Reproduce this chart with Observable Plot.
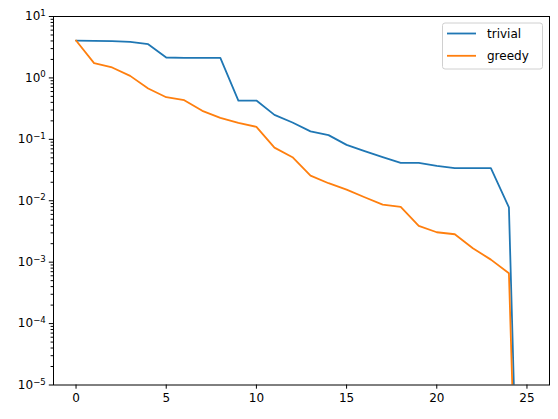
<!DOCTYPE html>
<html>
<head>
<meta charset="utf-8">
<script src="https://cdn.jsdelivr.net/npm/d3@7"></script>
<script src="https://cdn.jsdelivr.net/npm/@observablehq/plot@0.6"></script>
<style>
  html, body { margin: 0; padding: 0; background: #fff; }
  #chart { width: 558px; height: 419px; }
  svg { font-family: "DejaVu Sans", sans-serif; }
</style>
</head>
<body>
<div id="chart"></div>
<script>
const steps = d3.range(0, 26);
const trivial = [4.06, 4.0, 3.96, 3.87, 3.54, 2.15, 2.12, 2.12, 2.12, 0.428, 0.428, 0.25, 0.188, 0.135, 0.117, 0.0813, 0.0641, 0.0512, 0.0414, 0.0414, 0.037, 0.0339, 0.0339, 0.0339, 0.00783, 2e-13];
const greedy = [4.06, 1.74, 1.48, 1.08, 0.671, 0.485, 0.434, 0.291, 0.224, 0.185, 0.160, 0.0734, 0.0512, 0.0257, 0.0193, 0.0152, 0.0114, 0.00867, 0.00794, 0.0039, 0.00307, 0.00285, 0.00169, 0.0011, 0.00066, 1e-13];
const seriesNames = ["trivial", "greedy"];
const seriesColors = ["#1f77b4", "#ff7f0e"];
const xTicks = [0, 5, 10, 15, 20, 25];
const yTicks = [1e-5, 1e-4, 1e-3, 1e-2, 1e-1, 1, 10];

const yMinor = [];
for (let k = -5; k < 1; k++) for (let m = 2; m <= 9; m++) yMinor.push(m * Math.pow(10, k));

const rows = [];
steps.forEach((s, i) => {
  rows.push({x: s, y: trivial[i], series: seriesNames[0]});
  rows.push({x: s, y: greedy[i], series: seriesNames[1]});
});

const plot = Plot.plot({
  width: 558,
  height: 419,
  marginLeft: 53,
  marginRight: 9,
  marginTop: 16,
  marginBottom: 34.5,
  style: {fontFamily: "DejaVu Sans, sans-serif", fontSize: "12px", background: "#fff", color: "#000"},
  x: {domain: [-1.25, 26.25], label: null},
  y: {type: "log", domain: [1e-5, 10], label: null},
  color: {domain: seriesNames, range: seriesColors},
  marks: [
    Plot.line(rows, {x: "x", y: "y", z: "series", stroke: "series", strokeWidth: 1.8, clip: true}),
    Plot.frame({stroke: "#000", strokeWidth: 1}),
    Plot.axisX({ticks: xTicks, tickSize: 4.2, tickPadding: 4, tickFormat: d => String(d), label: null, fontSize: 12}),
    Plot.axisY({ticks: yTicks, tickSize: 4.2, tickPadding: 3.5, tickFormat: d => "E" + String(Math.round(Math.log10(d))), label: null, fontSize: 12}),
    Plot.axisY({ticks: yMinor, tickSize: 2.4, tickFormat: () => "", label: null})
  ]
});

document.getElementById("chart").appendChild(plot);
const svg = d3.select(plot);

// superscript exponents
svg.selectAll('text').each(function() {
  const t = d3.select(this);
  const s = t.text();
  if (!/^E-?\d+$/.test(s)) return;
  const exp = s.slice(1).replace("-", "\u2212");
  t.text("10");
  t.append("tspan").attr("dy", "-0.5em").attr("font-size", "8.6px").text(exp);
});

// legend
const lg = svg.append("g").attr("class", "legend").attr("text-anchor", "start");
lg.append("rect")
  .attr("x", 442.5).attr("y", 23).attr("width", 100).attr("height", 46)
  .attr("rx", 2.5).attr("fill", "#fff").attr("fill-opacity", 0.8)
  .attr("stroke", "#d0d0d0").attr("stroke-width", 1);
seriesNames.forEach((name, i) => {
  const y = 33.5 + i * 22.3;
  lg.append("line").attr("x1", 447).attr("x2", 476).attr("y1", y).attr("y2", y)
    .attr("stroke", seriesColors[i]).attr("stroke-width", 1.8);
  lg.append("text").attr("x", 487).attr("y", y).attr("dy", "0.35em")
    .attr("text-anchor", "start")
    .attr("font-size", "12px").attr("fill", "#000").text(name);
});
</script>
</body>
</html>
